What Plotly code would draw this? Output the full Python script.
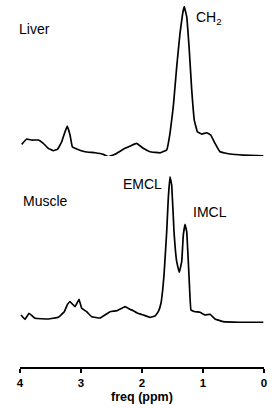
import plotly.graph_objects as go

# ---- data (chemical shift in ppm, intensity in arbitrary units) ----
liver_ppm = [3.972, 3.890, 3.808, 3.700, 3.618, 3.536, 3.454, 3.382, 3.316, 3.262,
             3.225, 3.180, 3.143, 3.070, 2.934, 2.770, 2.634, 2.552, 2.443, 2.279,
             2.087, 1.979, 1.869, 1.705, 1.595, 1.541, 1.487, 1.431, 1.377, 1.333,
             1.307, 1.267, 1.225, 1.185, 1.143, 1.093, 1.021, 0.939, 0.874, 0.803,
             0.721, 0.557, 0.339, 0.011]
liver_int = [11.7, 17, 16, 16, 12.7, 7.7, 5.3, 7, 14.3, 24.3,
             30, 21, 9.3, 7, 4.3, 3.3, 1.7, -0.7, 1.7, 7.7,
             12.7, 7.7, 4.3, 3.2, 6, 22.7, 49.3, 89.3, 122.7, 142.7,
             149.3, 139.3, 106, 66, 36, 24.3, 22, 23.3, 21, 12.7,
             4.3, 2, 1, 0.3]

muscle_ppm = [3.984, 3.918, 3.852, 3.798, 3.754, 3.536, 3.372, 3.274, 3.218, 3.180,
              3.098, 3.033, 2.989, 2.907, 2.825, 2.689, 2.607, 2.525, 2.415, 2.333,
              2.279, 2.197, 2.143, 2.087, 1.979, 1.869, 1.787, 1.733, 1.689, 1.661,
              1.639, 1.595, 1.569, 1.541, 1.513, 1.475, 1.431, 1.389, 1.349, 1.323,
              1.295, 1.267, 1.230, 1.197, 1.131, 1.049, 0.967, 0.885, 0.803, 0.667,
              0.393, 0.011]
muscle_int = [8, 3.7, 9.7, 7, 4.7, 4, 5.7, 11.3, 19, 21.3,
              16.3, 23.7, 14.7, 11.3, 6.3, 5, 8, 11.3, 12.3, 14.7,
              16.3, 13.7, 12.3, 10.3, 8, 5.7, 7, 11.3, 19.7, 33,
              48, 91.3, 124.7, 146.3, 138, 91.3, 61.3, 50.7, 61.3, 88,
              98.7, 91.3, 48, 13, 11.3, 10.7, 8, 8.7, 4, 1.3,
              0.7, 0.7]

x_ticks = [4, 3, 2, 1, 0]
x_title = "freq (ppm)"
labels = {"liver": "Liver", "muscle": "Muscle", "ch2": "CH<sub>2</sub>",
          "emcl": "EMCL", "imcl": "IMCL"}

FONT = "Arial, 'Liberation Sans', sans-serif"

fig = go.Figure()
line_style = dict(color="black", width=1.7, shape="spline", smoothing=0.2)
fig.add_trace(go.Scatter(x=liver_ppm, y=liver_int, mode="lines", line=line_style,
                         xaxis="x", yaxis="y2", hoverinfo="skip", cliponaxis=False))
fig.add_trace(go.Scatter(x=muscle_ppm, y=muscle_int, mode="lines", line=line_style,
                         xaxis="x", yaxis="y", hoverinfo="skip", cliponaxis=False))

ann_font = dict(family=FONT, size=14, color="black")
def ann(text, x, y):
    return dict(text=text, x=x, y=y, xref="paper", yref="paper",
                xanchor="left", yanchor="middle", showarrow=False, font=ann_font)

fig.update_layout(
    width=278, height=408,
    margin=dict(l=20, r=14, t=0, b=40),
    paper_bgcolor="white", plot_bgcolor="white",
    showlegend=False,
    xaxis=dict(range=[4, 0], tickvals=x_ticks, ticktext=[str(t) for t in x_ticks],
               anchor="free", position=0,
               showline=True, linecolor="black", linewidth=2,
               ticks="outside", ticklen=4, tickwidth=1.5, tickcolor="black",
               showgrid=False, zeroline=False,
               tickfont=dict(family=FONT, size=11.5, color="black", weight="bold"),
               title=dict(text=x_title, standoff=3,
                          font=dict(family=FONT, size=12.5, color="black", weight="bold"))),
    yaxis=dict(domain=[0.1223, 0.565], range=[0, 163], visible=False, fixedrange=True),
    yaxis2=dict(domain=[0.576, 1.0], range=[0, 156], visible=False, fixedrange=True),
    annotations=[
        ann(labels["liver"], -0.012, 0.921),
        ann(labels["ch2"], 0.713, 0.951),
        ann(labels["muscle"], 0.004, 0.454),
        ann(labels["emcl"], 0.414, 0.5),
        ann(labels["imcl"], 0.701, 0.424),
    ],
)

fig.write_html("out.html", config={"displayModeBar": False},
               post_script="document.body.style.margin='0px';document.body.style.overflow='hidden';")
